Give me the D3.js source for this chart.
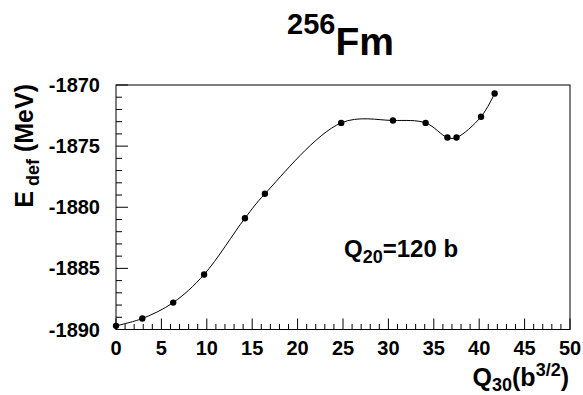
<!DOCTYPE html>
<html>
<head>
<meta charset="utf-8">
<script src="https://cdn.jsdelivr.net/npm/d3@7"></script>
<style>
  body { margin: 0; background: #fff; }
  text { font-family: "Liberation Sans", Arial, Helvetica, sans-serif; font-weight: bold; fill: #000; }
</style>
</head>
<body>
<div id="chart-area"></div>
<script>
// Q30 (b^3/2) and deformation energy (MeV)
var q30  = [0, 2.9, 6.3, 9.7, 14.2, 16.4, 24.8, 30.5, 34.1, 36.5, 37.5, 40.2, 41.7];
var edef = [-1889.7, -1889.1, -1887.8, -1885.5, -1880.9, -1878.9, -1873.1, -1872.9, -1873.1, -1874.3, -1874.3, -1872.6, -1870.7];
var xTicks = [0, 5, 10, 15, 20, 25, 30, 35, 40, 45, 50];
var yTicks = [-1890, -1885, -1880, -1875, -1870];

var W = 583, H = 395;
var pLeft = 116, pTop = 85, pRight = 570, pBottom = 329.5;

var svg = d3.select("#chart-area").append("svg")
    .attr("width", W)
    .attr("height", H);

var x = d3.scaleLinear().domain([0, 50]).range([pLeft, pRight]);
var y = d3.scaleLinear().domain([-1890, -1870]).range([pBottom, pTop]);

// frame
svg.append("rect")
    .attr("x", pLeft).attr("y", pTop)
    .attr("width", pRight - pLeft).attr("height", pBottom - pTop)
    .attr("fill", "none").attr("stroke", "#000").attr("stroke-width", 1);

// ticks point inward, like ROOT
var xAxis = svg.append("g").attr("transform", "translate(0," + pBottom + ")");
xAxis.selectAll("line")
    .data(d3.range(0, 51, 1))
    .enter().append("line")
    .attr("x1", (d) => x(d)).attr("x2", (d) => x(d))
    .attr("y1", 0).attr("y2", (d) => d % 5 == 0 ? -11 : -5.5)
    .attr("stroke", "#000");
xAxis.selectAll("text")
    .data(xTicks)
    .enter().append("text")
    .attr("x", (d) => x(d)).attr("y", 25)
    .attr("text-anchor", "middle")
    .style("font-size", "20px")
    .text((d) => d);

var yAxis = svg.append("g").attr("transform", "translate(" + pLeft + ",0)");
yAxis.selectAll("line")
    .data(d3.range(-1890, -1869, 1))
    .enter().append("line")
    .attr("y1", (d) => y(d)).attr("y2", (d) => y(d))
    .attr("x1", 0).attr("x2", (d) => d % 5 == 0 ? 12 : 6)
    .attr("stroke", "#000");
yAxis.selectAll("text")
    .data(yTicks)
    .enter().append("text")
    .attr("x", -16).attr("y", (d) => y(d) + 7)
    .attr("text-anchor", "end")
    .style("font-size", "20px")
    .text((d) => d);

// smooth curve through the points
var pts = q30.map((d, i) => [d, edef[i]]);
var line = d3.line()
    .x((d) => x(d[0]))
    .y((d) => y(d[1]))
    .curve(d3.curveCatmullRom.alpha(0.5));

svg.append("path")
    .datum(pts)
    .attr("d", line)
    .attr("fill", "none")
    .attr("stroke", "#000")
    .attr("stroke-width", 1);

svg.selectAll("circle")
    .data(pts)
    .enter().append("circle")
    .attr("cx", (d) => x(d[0]))
    .attr("cy", (d) => y(d[1]))
    .attr("r", 3.2)
    .attr("fill", "#000");

// title
var title = svg.append("text").attr("x", 287).attr("y", 34);
title.append("tspan").style("font-size", "29px").text("256");
title.append("tspan").attr("dy", 21).style("font-size", "39px").text("Fm");

// y label
var yl = svg.append("text")
    .attr("transform", "translate(33,84) rotate(-90)")
    .attr("text-anchor", "end")
    .style("font-size", "25px");
yl.append("tspan").text("E");
yl.append("tspan").attr("dx", 5).attr("dy", 6).style("font-size", "18px").text("def");
yl.append("tspan").attr("dy", -6).text(" (MeV)");

// x label
var xl = svg.append("text")
    .attr("x", 569).attr("y", 386)
    .attr("text-anchor", "end")
    .style("font-size", "25px");
xl.append("tspan").text("Q");
xl.append("tspan").attr("dy", 5).style("font-size", "18px").text("30");
xl.append("tspan").attr("dy", -5).text("(b");
xl.append("tspan").attr("dy", -10).style("font-size", "18px").text("3/2");
xl.append("tspan").attr("dy", 10).text(")");

// annotation
var ann = svg.append("text").attr("x", 344).attr("y", 257).style("font-size", "24px");
ann.append("tspan").text("Q");
ann.append("tspan").attr("dy", 6).style("font-size", "18px").text("20");
ann.append("tspan").attr("dy", -6).text("=120 b");
</script>
</body>
</html>
